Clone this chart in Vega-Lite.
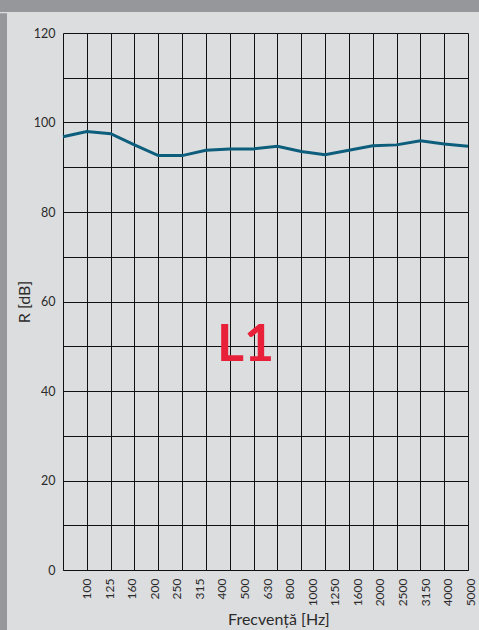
{
  "$schema": "https://vega.github.io/schema/vega-lite/v6.json",
  "padding": 0,
  "background": "#dcdddf",
  "config": {
    "view": {"stroke": null},
    "font": "Lato",
    "axis": {"labelFont": "Lato", "titleFont": "Lato", "labelColor": "#2b2b2b", "titleColor": "#2b2b2b", "titleFontWeight": "normal"}
  },
  "datasets": {
    "curve": [
      {"f": "100", "r": 96.8},
      {"f": "125", "r": 98.0},
      {"f": "160", "r": 97.5},
      {"f": "200", "r": 95.0},
      {"f": "250", "r": 92.6},
      {"f": "315", "r": 92.6},
      {"f": "400", "r": 93.8},
      {"f": "500", "r": 94.1},
      {"f": "630", "r": 94.1},
      {"f": "800", "r": 94.7},
      {"f": "1000", "r": 93.5},
      {"f": "1250", "r": 92.8},
      {"f": "1600", "r": 93.8},
      {"f": "2000", "r": 94.8},
      {"f": "2500", "r": 95.0},
      {"f": "3150", "r": 95.9},
      {"f": "4000", "r": 95.2},
      {"f": "5000", "r": 94.7}
    ],
    "note": [{"label": "L1"}],
    "strip": [{}]
  },
  "vconcat": [
    {
      "width": 479,
      "height": 12,
      "view": {"fill": "#96979a", "stroke": null},
      "data": {"name": "strip"},
      "mark": {"type": "rect", "color": "#96979a"}
    },
    {
      "hconcat": [
        {
          "width": 7,
          "height": 600,
          "view": {"fill": "#96979a", "stroke": null},
          "data": {"name": "strip"},
          "mark": {"type": "rect", "color": "#96979a", "clip": false},
          "encoding": {
            "y": {"datum": 103.3, "type": "quantitative", "scale": {"domain": [0, 100], "nice": false}, "axis": null},
            "y2": {"datum": 0}
          }
        },
        {
          "width": 405,
          "height": 537,
          "title": {"text": " ", "fontSize": 8, "offset": 7},
          "layer": [
            {
              "layer": [
                {
                  "data": {"name": "curve"},
                  "mark": {"type": "line", "color": "#0d5e7c", "strokeWidth": 3},
                  "encoding": {
                    "x": {
                      "field": "f", "type": "ordinal", "sort": null,
                      "scale": {"type": "point", "padding": 0},
                      "axis": {"orient": "bottom", "grid": true, "gridColor": "#111111", "gridWidth": 1, "gridOpacity": 1, "ticks": false, "labels": false, "domain": true, "domainColor": "#111111", "title": null}
                    },
                    "y": {
                      "field": "r", "type": "quantitative",
                      "scale": {"domain": [0, 120], "nice": false, "zero": true},
                      "axis": {
                        "values": [0, 10, 20, 30, 40, 50, 60, 70, 80, 90, 100, 110, 120],
                        "labelExpr": "datum.value % 20 === 0 ? datum.label : ''",
                        "grid": true, "gridColor": "#111111", "gridWidth": 1, "gridOpacity": 1,
                        "ticks": false, "domain": false,
                        "labelFontSize": 12.5, "labelPadding": 8,
                        "title": "R [dB]", "titleFontSize": 16, "titlePadding": 1
                      }
                    }
                  }
                },
                {
                  "data": {"name": "note"},
                  "mark": {"type": "text", "color": "#e8203a", "fontSize": 52, "fontWeight": "bold", "font": "Lato", "align": "center", "baseline": "alphabetic", "dx": -8},
                  "encoding": {
                    "x": {"datum": "630"},
                    "y": {"datum": 46.6},
                    "text": {"field": "label"}
                  }
                }
              ]
            },
            {
              "data": {"name": "curve"},
              "mark": {"type": "point", "opacity": 0},
              "encoding": {
                "x": {
                  "field": "f", "type": "ordinal", "sort": null,
                  "scale": {"type": "point", "padding": 0, "range": [23.5, 407.3]},
                  "axis": {"orient": "bottom", "grid": false, "ticks": false, "domain": false, "labelAngle": -90, "labelAlign": "right", "labelBaseline": "middle", "labelPadding": 8, "labelFontSize": 12, "title": "Frecvență [Hz]", "titleFontSize": 16, "titlePadding": 6}
                },
                "y": {"field": "r", "type": "quantitative"}
              }
            }
          ],
          "resolve": {"scale": {"x": "independent"}}
        }
      ],
      "spacing": 9
    }
  ],
  "spacing": 0
}
